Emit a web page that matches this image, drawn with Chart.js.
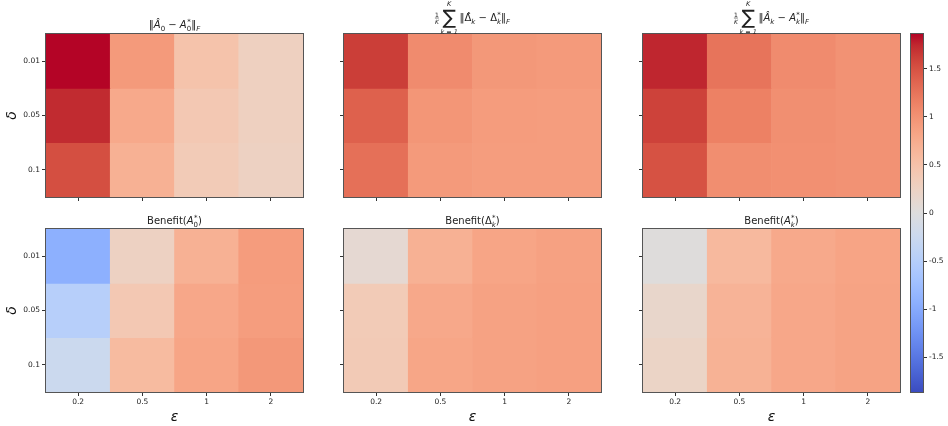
<!DOCTYPE html>
<html>
<head>
<meta charset="utf-8">
<script src="https://cdn.jsdelivr.net/npm/chart.js@4/dist/chart.umd.min.js"></script>
<style>
  html, body { margin: 0; padding: 0; background: #fff; }
  #wrap { position: relative; width: 948px; height: 426px; }
  #wrap canvas { position: absolute; left: 0; top: 0; }
</style>
</head>
<body>
<div id="wrap"></div>
<script>
// axis categories
const epsLabels = ['0.2', '0.5', '1', '2'];
const deltaLabels = ['0.01', '0.05', '0.1'];
const cbarTicks = [-1.5, -1, -0.5, 0, 0.5, 1, 1.5];

// values: rows = delta, cols = eps
const errA0    = [[1.86, 0.93, 0.48, 0.28], [1.73, 0.78, 0.41, 0.28], [1.52, 0.70, 0.37, 0.26]];
const errDelta = [[1.63, 1.06, 0.95, 0.93], [1.39, 0.97, 0.91, 0.90], [1.28, 0.93, 0.90, 0.90]];
const errAk    = [[1.75, 1.25, 1.06, 1.00], [1.60, 1.15, 1.03, 1.00], [1.50, 1.04, 1.02, 1.00]];
const benA0    = [[-0.93, 0.26, 0.70, 0.91], [-0.48, 0.41, 0.80, 0.90], [-0.24, 0.58, 0.82, 0.95]];
const benDelta = [[0.11, 0.70, 0.82, 0.86], [0.37, 0.79, 0.85, 0.87], [0.38, 0.81, 0.85, 0.87]];
const benAk    = [[0.02, 0.60, 0.78, 0.83], [0.17, 0.67, 0.80, 0.84], [0.22, 0.69, 0.80, 0.84]];

const allVals = [errA0, errDelta, errAk, benA0, benDelta, benAk].flat(2);
const vmax = Math.max(...allVals.map(Math.abs));

// matplotlib coolwarm (Moreland)
const CW = [[59,76,192],[68,90,204],[77,104,215],[87,117,225],[98,130,234],[108,142,241],[119,154,247],[130,165,251],
  [141,176,254],[152,185,255],[163,194,255],[174,201,253],[184,208,249],[194,213,244],[204,217,238],[213,219,230],
  [221,221,221],[229,216,209],[236,211,197],[241,204,185],[245,196,173],[247,187,160],[247,177,148],[247,166,135],
  [244,154,123],[241,141,111],[236,127,99],[229,112,88],[222,96,77],[213,80,66],[203,62,56],[192,40,47],[180,4,38]];
function coolwarm(t) {
  t = Math.min(1, Math.max(0, t)) * (CW.length - 1);
  const i = Math.min(CW.length - 2, Math.floor(t)), f = t - i;
  const c = CW[i].map((a, k) => Math.round(a + (CW[i + 1][k] - a) * f));
  return `rgb(${c[0]},${c[1]},${c[2]})`;
}
const colorOf = v => coolwarm((v + vmax) / (2 * vmax));

const FONT = 'DejaVu Sans';
const W = 948, H = 426, YW = 42, XH = 34;

// small mathtext-ish title renderer
function fontStr(r) { return (r.it ? 'italic ' : '') + (r.sz || 10) + 'px "' + FONT + '"'; }
function measureRun(ctx, r) {
  if (r.stack) {
    r._w = 0;
    r.stack.forEach(s => { if (!s.bar) { ctx.font = fontStr(s); s._w = ctx.measureText(s.t).width; r._w = Math.max(r._w, s._w); } });
  } else { ctx.font = fontStr(r); r._w = ctx.measureText(r.t).width; }
  return r._w;
}
const mathTitle = {
  id: 'mathTitle',
  afterDraw(chart, args, opts) {
    if (!opts.runs) return;
    const ctx = chart.ctx, a = chart.chartArea;
    ctx.save();
    ctx.fillStyle = '#222'; ctx.strokeStyle = '#222'; ctx.textBaseline = 'alphabetic';
    let total = opts.runs.reduce((s, r) => s + measureRun(ctx, r), 0);
    let x = (a.left + a.right) / 2 - total / 2;
    const by = opts.y;
    opts.runs.forEach(r => {
      if (r.stack) {
        r.stack.forEach(s => {
          if (s.bar) { ctx.lineWidth = 0.6; ctx.beginPath(); ctx.moveTo(x, by + s.dy); ctx.lineTo(x + r._w, by + s.dy); ctx.stroke(); return; }
          ctx.font = fontStr(s); ctx.textAlign = 'left';
          ctx.fillText(s.t, x + (r._w - s._w) / 2, by + (s.dy || 0));
        });
      } else {
        ctx.font = fontStr(r); ctx.textAlign = 'left';
        ctx.fillText(r.t, x, by + (r.dy || 0));
      }
      x += r._w;
    });
    ctx.restore();
  }
};
const frame = {
  id: 'frame',
  afterDatasetsDraw(chart) {
    const a = chart.chartArea, c = chart.ctx;
    c.save(); c.strokeStyle = '#555'; c.lineWidth = 1;
    c.strokeRect(Math.round(a.left) - 0.5, Math.round(a.top) - 0.5, Math.round(a.right - a.left) + 1, Math.round(a.bottom - a.top) + 1);
    c.restore();
  }
};

const sub = (t, it) => ({ t, sz: 7, it: !!it, dy: 2.5 });
const subSup = (t, it) => ({ stack: [{ t, sz: 7, it: !!it, dy: 2.5 }, { t: '*', sz: 7, dy: -4.5 }] });
const sumHead = () => [
  { stack: [{ t: '1', sz: 6, dy: -4.5 }, { bar: true, dy: -3 }, { t: 'K', sz: 6, it: true, dy: 2.5 }] },
  { t: ' ', sz: 5 },
  { stack: [{ t: 'K', sz: 6.5, it: true, dy: -15.5 }, { t: '∑', sz: 20, dy: 3 }, { t: 'k = 1', sz: 6.5, it: true, dy: 13 }] },
  { t: ' ', sz: 5 }
];

const titles = [
  { y: 28, runs: [{ t: '‖', sz: 10 }, { t: 'Â', sz: 10, it: true }, sub('0'), { t: ' − ', sz: 10 }, { t: 'A', sz: 10, it: true }, subSup('0'), { t: '‖', sz: 10 }, sub('F', true)] },
  { y: 21, runs: [...sumHead(), { t: '‖', sz: 10 }, { t: 'Δ̂', sz: 10 }, sub('k', true), { t: ' − ', sz: 10 }, { t: 'Δ', sz: 10 }, subSup('k', true), { t: '‖', sz: 10 }, sub('F', true)] },
  { y: 21, runs: [...sumHead(), { t: '‖', sz: 10 }, { t: 'Â', sz: 10, it: true }, sub('k', true), { t: ' − ', sz: 10 }, { t: 'A', sz: 10, it: true }, subSup('k', true), { t: '‖', sz: 10 }, sub('F', true)] },
  { y: 224, runs: [{ t: 'Benefit(', sz: 10 }, { t: 'A', sz: 10, it: true }, subSup('0'), { t: ')', sz: 10 }] },
  { y: 224, runs: [{ t: 'Benefit(', sz: 10 }, { t: 'Δ', sz: 10 }, subSup('k', true), { t: ')', sz: 10 }] },
  { y: 224, runs: [{ t: 'Benefit(', sz: 10 }, { t: 'A', sz: 10, it: true }, subSup('k', true), { t: ')', sz: 10 }] }
];

const cols = [46, 344, 643], colW = 257;
const rowsTop = [34, 229], rowH = 163;

function newCanvas() {
  const c = document.createElement('canvas');
  c.width = W; c.height = H; c.style.width = W + 'px'; c.style.height = H + 'px';
  document.getElementById('wrap').appendChild(c);
  return c;
}

function heatmap(values, box, showX, showY, title) {
  const tickFont = { size: 7.5, family: FONT };
  new Chart(newCanvas(), {
    type: 'bar',
    data: {
      labels: epsLabels,
      datasets: deltaLabels.map((d, r) => ({
        data: epsLabels.map(() => [r, r + 1]),
        backgroundColor: values[r].map(colorOf),
        borderWidth: 0, barPercentage: 1, categoryPercentage: 1, grouped: false
      }))
    },
    options: {
      responsive: false, animation: false, events: [],
      layout: { padding: { left: box.l - YW, top: box.t, right: W - box.l - box.w, bottom: H - box.t - box.h - XH } },
      plugins: { legend: { display: false }, tooltip: { enabled: false }, mathTitle: title },
      scales: {
        x: {
          grid: { offset: false, drawOnChartArea: false, drawTicks: true, tickLength: 4, color: '#333' },
          border: { display: false },
          ticks: { display: showX, font: tickFont, color: '#222', padding: 2, maxRotation: 0 },
          title: { display: showX, text: 'ε', font: { size: 14, family: FONT, style: 'italic' }, color: '#111', padding: 0 },
          afterFit: s => { s.height = XH; }
        },
        y: {
          type: 'linear', min: 0, max: 3, reverse: true,
          afterBuildTicks: s => { s.ticks = deltaLabels.map((d, i) => ({ value: i + 0.5 })); },
          grid: { drawOnChartArea: false, drawTicks: true, tickLength: 4, color: '#333' },
          border: { display: false },
          ticks: { display: showY, font: tickFont, color: '#222', padding: 2, callback: (v, i) => deltaLabels[i] },
          title: { display: showY, text: 'δ', font: { size: 14, family: FONT, style: 'italic' }, color: '#111', padding: 0 },
          afterFit: s => { s.width = YW; }
        }
      }
    },
    plugins: [frame, mathTitle]
  });
}

const panels = [errA0, errDelta, errAk, benA0, benDelta, benAk];
panels.forEach((vals, i) => {
  const r = Math.floor(i / 3), c = i % 3;
  heatmap(vals, { l: cols[c], t: rowsTop[r], w: colW, h: rowH }, r === 1, c === 0, titles[i]);
});

// colorbar
const cb = { l: 911, t: 34, w: 12, h: 358 }, CBW = 30;
new Chart(newCanvas(), {
  type: 'bar',
  data: {
    labels: [''],
    datasets: [{
      data: [[-vmax, vmax]],
      backgroundColor: ctx => {
        const a = ctx.chart.chartArea;
        if (!a) return '#ddd';
        const g = ctx.chart.ctx.createLinearGradient(0, a.bottom, 0, a.top);
        CW.forEach((c, k) => g.addColorStop(k / (CW.length - 1), `rgb(${c[0]},${c[1]},${c[2]})`));
        return g;
      },
      borderWidth: 0, barPercentage: 1, categoryPercentage: 1
    }]
  },
  options: {
    responsive: false, animation: false, events: [],
    layout: { padding: { left: cb.l, top: cb.t, right: W - cb.l - cb.w - CBW, bottom: H - cb.t - cb.h } },
    plugins: { legend: { display: false }, tooltip: { enabled: false } },
    scales: {
      x: { display: false },
      y: {
        type: 'linear', position: 'right', min: -vmax, max: vmax,
        afterBuildTicks: s => { s.ticks = cbarTicks.map(v => ({ value: v })); },
        grid: { drawOnChartArea: false, drawTicks: true, tickLength: 4, color: '#333' },
        border: { display: false },
        ticks: { font: { size: 7.5, family: FONT }, color: '#222', padding: 2, callback: v => String(v) },
        afterFit: s => { s.width = CBW; }
      }
    }
  },
  plugins: [frame]
});
</script>
</body>
</html>
